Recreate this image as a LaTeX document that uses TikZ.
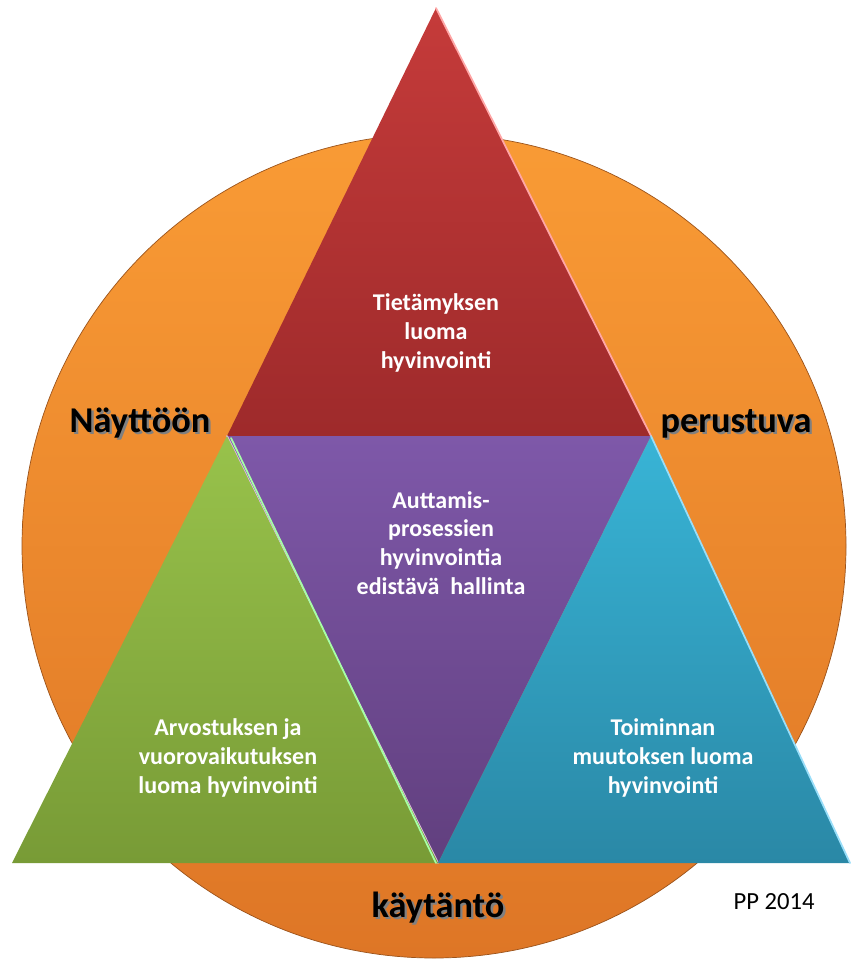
\documentclass[tikz,border=0pt]{standalone}
\usepackage{fontspec}
\setmainfont{Carlito}
\usetikzlibrary{calc}

\definecolor{ringtop}{HTML}{F99B35}
\definecolor{ringbot}{HTML}{DE7626}
\definecolor{redtop}{HTML}{C53B3A}
\definecolor{redbot}{HTML}{9E2A2B}
\definecolor{purtop}{HTML}{7E58A9}
\definecolor{purbot}{HTML}{613F7E}
\definecolor{grntop}{HTML}{98C24B}
\definecolor{grnbot}{HTML}{789B36}
\definecolor{blutop}{HTML}{38B4D6}
\definecolor{blubot}{HTML}{2A88A6}

\newcommand{\shadowed}[1]{\makebox[0pt][l]{\hspace{2pt}\raisebox{-2pt}{\color{black!50}#1}}#1}

\begin{document}
\begin{tikzpicture}[x=0.03cm, y=-0.03cm,
    inner/.style={text=white, align=center, font=\fontsize{20.5}{24.5}\selectfont\bfseries},
    outer/.style={anchor=base, text=black, font=\fontsize{31}{36}\selectfont\bfseries},
    edgelight/.style={line width=1.5pt, line cap=round}]
    % \draw[help lines](0,0) grid[step=50] (853,963);
    \path[use as bounding box] (0,0) rectangle (853,963);

    % corners of the triangles
    \coordinate (apex) at (436,8);
    \coordinate (L) at (227,436);
    \coordinate (R) at (651,436);
    \coordinate (B) at (438,863);
    \coordinate (gl) at (12,863);
    \coordinate (br) at (850,863);

    % orange circle
    \shade[top color=ringtop, bottom color=ringbot, draw=ringbot!70!black, line width=0.6pt]
        (434,546) circle (412);

    % knowledge triangle
    \shade[top color=redtop, bottom color=redbot] (apex) -- (L) -- (R) -- cycle;
    \draw[edgelight, draw=red!35!white] (apex) -- (R);

    % helping process triangle
    \shade[top color=purtop, bottom color=purbot] (L) -- (R) -- (B) -- cycle;
    \draw[edgelight, draw=violet!25!white] (L) -- (B);

    % appreciation triangle
    \shade[top color=grntop, bottom color=grnbot] (L) -- (B) -- (gl) -- cycle;
    \draw[edgelight, draw=green!35!white] ($(L)+(4,2)$) -- ($(B)+(-2,0)$);

    % action triangle
    \shade[top color=blutop, bottom color=blubot] (R) -- (br) -- (B) -- cycle;
    \draw[edgelight, draw=cyan!40!white] (R) -- (br);

    % texts inside
    \node[inner] (know) at (436,333) {Tietämyksen\\luoma\\hyvinvointi};
    \node[inner] (help) at (441,543) {Auttamis-\\prosessien\\hyvinvointia\\edistävä\ \ hallinta};
    \node[inner] (appr) at (228,758) {Arvostuksen ja\\vuorovaikutuksen\\luoma hyvinvointi};
    \node[inner] (act) at (663,758) {Toiminnan\\muutoksen luoma\\hyvinvointi};

    % words round the circle
    \node[outer] (evid) at (140,432) {\shadowed{Näyttöön}};
    \node[outer] (based) at (736,432) {\shadowed{perustuva}};
    \node[outer] (pract) at (438,917) {\shadowed{käytäntö}};

    \node[anchor=base, font=\fontsize{21}{25}\selectfont] (sign) at (774,909) {PP 2014};

\end{tikzpicture}
\end{document}
